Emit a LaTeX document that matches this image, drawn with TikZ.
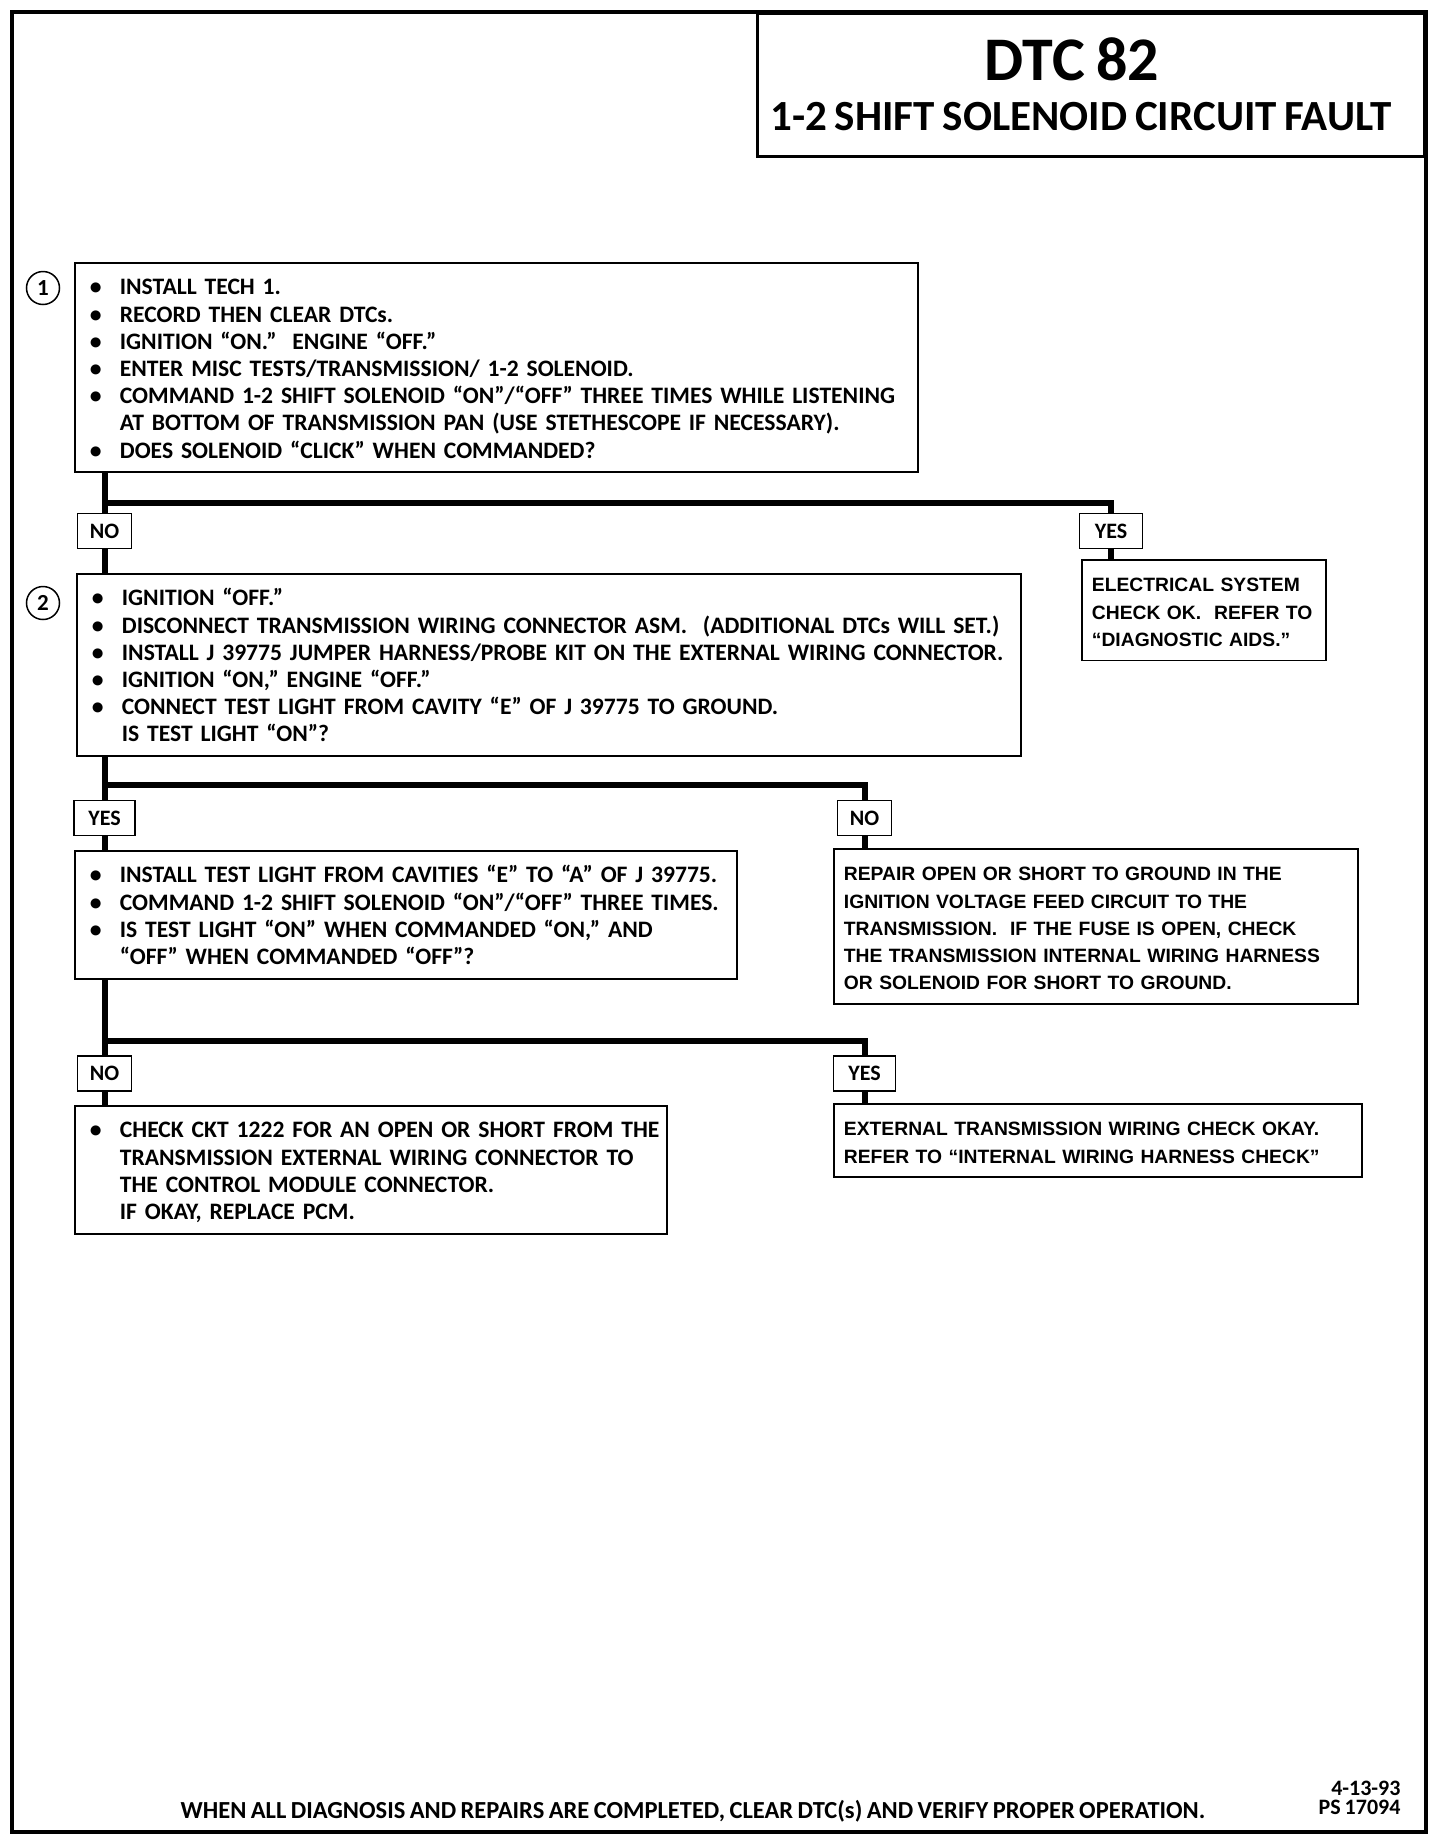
\documentclass[tikz,border=0pt]{standalone}
\usepackage{fontspec}
\setmainfont{Carlito}[WordSpace=0.8]
\newfontfamily\widefont{Liberation Sans}[Ligatures=TeX]
\newenvironment{steplist}{\begin{tabular}[t]{@{}p{30pt}@{}l@{}}}{\end{tabular}}
\newenvironment{plainlist}{\begin{tabular}[t]{@{}l@{}}}{\end{tabular}}

\begin{document}
\begin{tikzpicture}[x=1pt,y=-1pt,
  stepbox/.style={draw,line width=1.8pt,anchor=north west,align=left,inner xsep=15pt,inner ysep=6pt,text height=26pt,font=\bfseries\fontsize{23.6}{27.2}\selectfont},
  endbox/.style={stepbox,inner xsep=10pt,font=\widefont\bfseries\fontsize{19.3}{27.2}\selectfont},
  ansbox/.style={draw,line width=1.8pt,minimum width=54pt,minimum height=35pt,inner sep=0pt,font=\bfseries\fontsize{22}{22}\selectfont},
  numcirc/.style={draw,circle,line width=1.5pt,minimum size=33pt,inner sep=0pt,font=\bfseries\fontsize{23}{23}\selectfont},
  conn/.style={line width=6pt}]
\useasboundingbox (0,0) rectangle (1440,1842);
\draw[line width=3.5pt] (12,12) rectangle (1426,1832);
\node[draw,line width=3pt,anchor=north east,minimum width=667pt,minimum height=143pt] (title) at (1426,12) {};
\node[font=\bfseries\fontsize{62}{62}\selectfont] (dtc) at (1072,59) {DTC 82};
\node[font=\bfseries\fontsize{43}{43}\selectfont] (fault) at (1081,117) {1-2 SHIFT SOLENOID CIRCUIT FAULT};

\node[numcirc] (n1) at (43,288) {1};
\node[stepbox,text width=813pt] (b1) at (74,262) {\begin{steplist}
\textbullet & INSTALL TECH 1.\\
\textbullet & RECORD THEN CLEAR DTCs.\\
\textbullet & IGNITION ``ON.''\ \ ENGINE ``OFF.''\\
\textbullet & ENTER MISC TESTS/TRANSMISSION/ 1-2 SOLENOID.\\
\textbullet & COMMAND 1-2 SHIFT SOLENOID ``ON''/``OFF'' THREE TIMES WHILE LISTENING\\
 & AT BOTTOM OF TRANSMISSION PAN (USE STETHESCOPE IF NECESSARY).\\
\textbullet & DOES SOLENOID ``CLICK'' WHEN COMMANDED?
\end{steplist}};
\coordinate (j1) at (104.5,503);
\node[ansbox] (no1) at (104.5,531) {NO};
\node[ansbox,minimum width=63pt] (yes1) at (1111,531) {YES};
\node[endbox,text width=224pt] (elec) at (1081,559) {\begin{plainlist}
ELECTRICAL SYSTEM\\
CHECK OK.\ \ REFER TO\\
``DIAGNOSTIC AIDS.''
\end{plainlist}};

\node[numcirc] (n2) at (43,603) {2};
\node[stepbox,text width=914pt] (b2) at (76,573) {\begin{steplist}
\textbullet & IGNITION ``OFF.''\\
\textbullet & DISCONNECT TRANSMISSION WIRING CONNECTOR ASM.\ \ (ADDITIONAL DTCs WILL SET.)\\
\textbullet & INSTALL J 39775 JUMPER HARNESS/PROBE KIT ON THE EXTERNAL WIRING CONNECTOR.\\
\textbullet & IGNITION ``ON,'' ENGINE ``OFF.''\\
\textbullet & CONNECT TEST LIGHT FROM CAVITY ``E'' OF J 39775 TO GROUND.\\
 & IS TEST LIGHT ``ON''?
\end{steplist}};
\coordinate (j2) at (104.5,785);
\node[ansbox,minimum width=61pt] (yes2) at (104.5,818) {YES};
\node[ansbox] (no2) at (864.5,818) {NO};

\node[stepbox,text width=632pt] (b3) at (74,850) {\begin{steplist}
\textbullet & INSTALL TEST LIGHT FROM CAVITIES ``E'' TO ``A'' OF J 39775.\\
\textbullet & COMMAND 1-2 SHIFT SOLENOID ``ON''/``OFF'' THREE TIMES.\\
\textbullet & IS TEST LIGHT ``ON'' WHEN COMMANDED ``ON,'' AND\\
 & ``OFF'' WHEN COMMANDED ``OFF''?
\end{steplist}};
\node[endbox,text width=504pt] (repair) at (833,848) {\begin{plainlist}
REPAIR OPEN OR SHORT TO GROUND IN THE\\
IGNITION VOLTAGE FEED CIRCUIT TO THE\\
TRANSMISSION.\ \ IF THE FUSE IS OPEN, CHECK\\
THE TRANSMISSION INTERNAL WIRING HARNESS\\
OR SOLENOID FOR SHORT TO GROUND.
\end{plainlist}};
\coordinate (j3) at (104.5,1041);
\node[ansbox] (no3) at (104.5,1073.5) {NO};
\node[ansbox,minimum width=62pt] (yes3) at (864.5,1073.5) {YES};

\node[stepbox,text width=562pt] (b4) at (74,1105) {\begin{steplist}
\textbullet & CHECK CKT 1222 FOR AN OPEN OR SHORT FROM THE\\
 & TRANSMISSION EXTERNAL WIRING CONNECTOR TO\\
 & THE CONTROL MODULE CONNECTOR.\\
 & IF OKAY, REPLACE PCM.
\end{steplist}};
\node[endbox,text width=508pt] (ext) at (833,1103) {\begin{plainlist}
EXTERNAL TRANSMISSION WIRING CHECK OKAY.\\
REFER TO ``INTERNAL WIRING HARNESS CHECK''
\end{plainlist}};

\draw[conn] (b1.south -| j1) -- (no1.north);
\draw[conn] (j1) -| (yes1.north);
\draw[conn] (yes1.south) -- (yes1.south |- elec.north);
\draw[conn] (no1.south) -- (no1.south |- b2.north);
\draw[conn] (b2.south -| j2) -- (yes2.north);
\draw[conn] (j2) -| (no2.north);
\draw[conn] (yes2.south) -- (yes2.south |- b3.north);
\draw[conn] (no2.south) -- (no2.south |- repair.north);
\draw[conn] (b3.south -| j3) -- (no3.north);
\draw[conn] (j3) -| (yes3.north);
\draw[conn] (no3.south) -- (no3.south |- b4.north);
\draw[conn] (yes3.south) -- (yes3.south |- ext.north);

\node[font=\bfseries\fontsize{24.5}{24.5}\selectfont] (foot) at (693,1811) {WHEN ALL DIAGNOSIS AND REPAIRS ARE COMPLETED, CLEAR DTC(s) AND VERIFY PROPER OPERATION.};
\node[anchor=east,align=right,font=\bfseries\fontsize{22}{19}\selectfont] (stamp) at (1404,1797.5) {4-13-93\\PS 17094};
\end{tikzpicture}
\end{document}
